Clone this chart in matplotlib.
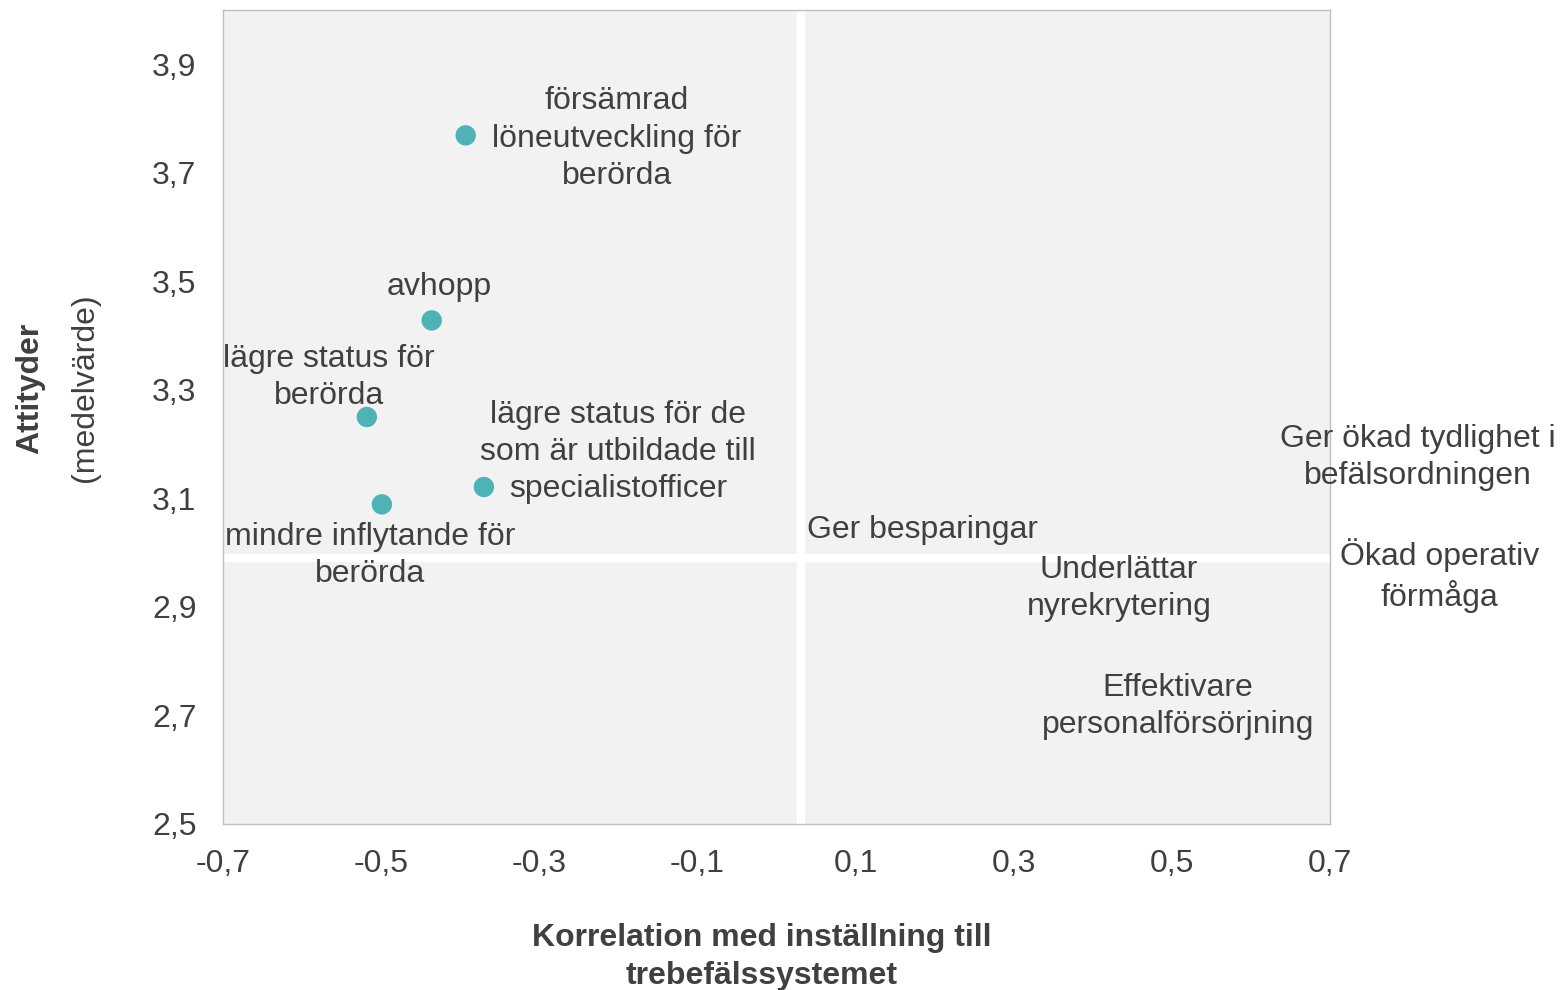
import matplotlib
matplotlib.use("Agg")
import matplotlib.pyplot as plt

plt.rcParams['font.family'] = ['Liberation Sans', 'DejaVu Sans']

# Data
point_names = ["försämrad löneutveckling för berörda", "avhopp", "lägre status för berörda",
               "lägre status för de som är utbildade till specialistofficer", "mindre inflytande för berörda"]
point_x = [-0.393, -0.436, -0.518, -0.370, -0.499]
point_y = [3.769, 3.428, 3.250, 3.121, 3.089]

label_texts = ["försämrad\nlöneutveckling för\nberörda", "avhopp", "lägre status för\nberörda",
               "lägre status för de\nsom är utbildade till\nspecialistofficer", "mindre inflytande för\nberörda",
               "Ger besparingar", "Underlättar\nnyrekrytering", "Effektivare\npersonalförsörjning",
               "Ger ökad tydlighet i\nbefälsordningen", "Ökad operativ\nförmåga"]
label_x = [-0.202, -0.427, -0.566, -0.200, -0.514, 0.185, 0.433, 0.508, 0.811, 0.838]
label_y = [3.763, 3.490, 3.322, 3.186, 2.994, 3.042, 2.934, 2.716, 3.175, 2.957]

divider_x = 0.031
divider_y = 2.99

x_ticks = [-0.7, -0.5, -0.3, -0.1, 0.1, 0.3, 0.5, 0.7]
y_ticks = [2.5, 2.7, 2.9, 3.1, 3.3, 3.5, 3.7, 3.9]

text_color = '#404040'
fs = 23
ls = 1.31

fig = plt.figure(figsize=(15.6, 9.9), dpi=100)
ax = fig.add_axes([0.1429, 0.1677, 0.7097, 0.8222])
ax.set_facecolor('#F2F2F2')
ax.set_xlim(-0.7, 0.7)
ax.set_ylim(2.5, 4.0)

ax.axvline(divider_x, color='white', lw=6, zorder=1)
ax.axhline(divider_y, color='white', lw=6, zorder=1)

ax.scatter(point_x, point_y, s=215, color='#4DB3B6', zorder=3, edgecolors='none')

for t, x, y in zip(label_texts, label_x, label_y):
    ax.text(x, y, t, ha='center', va='center', fontsize=fs, color=text_color,
            linespacing=ls, zorder=4, clip_on=False)

ax.set_xticks(x_ticks)
ax.set_xticklabels([f"{v:.1f}".replace('.', ',') for v in x_ticks])
ax.set_yticks(y_ticks)
ax.set_yticklabels([f"{v:.1f}".replace('.', ',') for v in y_ticks])
ax.tick_params(length=0, labelsize=fs, colors=text_color)
ax.tick_params(axis='x', pad=18)
ax.tick_params(axis='y', pad=19)
for s in ax.spines.values():
    s.set_color('#BFBFBF')
    s.set_linewidth(1)

fig.text(762/1560, 1 - 957/990, "Korrelation med inställning till\ntrebefälssystemet",
         ha='center', va='center', fontsize=fs, fontweight='bold', color=text_color, linespacing=ls)
fig.text(30/1560, 1 - 388/990, "Attityder", rotation=90, ha='center', va='center',
         fontsize=fs, fontweight='bold', color=text_color)
fig.text(85/1560, 1 - 388/990, "(medelvärde)", rotation=90, ha='center', va='center',
         fontsize=fs, color=text_color)

fig.savefig("out.png", dpi=100)
